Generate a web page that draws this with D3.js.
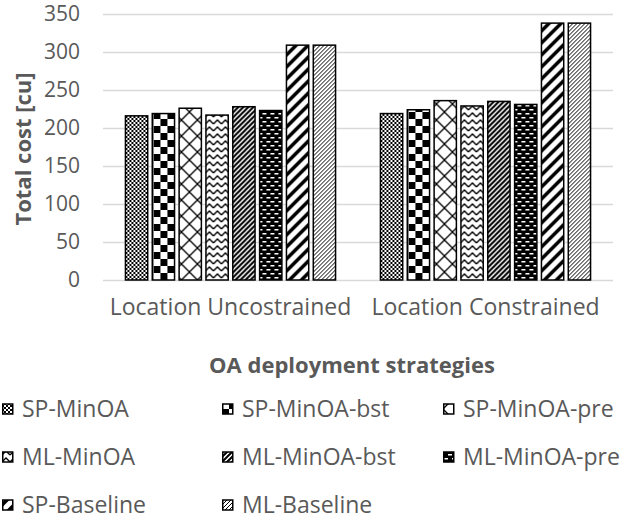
<!DOCTYPE html>
<html>
<head>
<meta charset="utf-8">
<script src="https://cdn.jsdelivr.net/npm/d3@7"></script>
<style>
  html, body { margin: 0; padding: 0; background: #fff; }
  svg { display: block; }
  text { font-family: "Open Sans", sans-serif; fill: #595959; }
</style>
</head>
<body>
<svg id="chart" width="629" height="520"></svg>
<script>
const categories = ["Location Uncostrained", "Location Constrained"];
const seriesNames = ["SP-MinOA", "SP-MinOA-bst", "SP-MinOA-pre", "ML-MinOA", "ML-MinOA-bst", "ML-MinOA-pre", "SP-Baseline", "ML-Baseline"];
const valuesUncostrained = [216, 219, 226, 217, 228, 223, 309, 309];
const valuesConstrained  = [219, 224, 236, 229, 235, 231, 338, 338];
const yTicks = [0, 50, 100, 150, 200, 250, 300, 350];
const yTitle = "Total cost [cu]";
const xTitle = "OA deployment strategies";

const data = [valuesUncostrained, valuesConstrained];

const svg = d3.select("#chart");
const plot = { left: 103, right: 613, top: 14, bottom: 280 };

// Patterns
const defs = svg.append("defs");
function pat(id, w, h, bg, draw) {
  const p = defs.append("pattern").attr("id", id).attr("patternUnits", "userSpaceOnUse")
    .attr("width", w).attr("height", h);
  p.append("rect").attr("width", w).attr("height", h).attr("fill", bg);
  draw(p);
}
pat("p0", 4, 4, "#fff", p => {
  p.append("rect").attr("x", 0).attr("y", 0).attr("width", 2).attr("height", 2).attr("fill", "#000");
  p.append("rect").attr("x", 2).attr("y", 2).attr("width", 2).attr("height", 2).attr("fill", "#000");
});
pat("p1", 14, 14, "#fff", p => {
  p.append("rect").attr("x", 0).attr("y", 0).attr("width", 7).attr("height", 7).attr("fill", "#000");
  p.append("rect").attr("x", 7).attr("y", 7).attr("width", 7).attr("height", 7).attr("fill", "#000");
});
pat("p2", 16, 16, "#fff", p => {
  p.append("path").attr("d", "M0,0L16,16M16,0L0,16").attr("stroke", "#000").attr("stroke-width", 1.3);
});
pat("p3", 8, 7, "#fff", p => {
  p.append("path").attr("d", "M0,5L4,1L8,5").attr("stroke", "#000").attr("stroke-width", 1.3).attr("fill", "none");
});
pat("p4", 5, 5, "#fff", p => {
  p.append("path").attr("d", "M-1,6L6,-1M-1,1L1,-1M4,6L6,4").attr("stroke", "#000").attr("stroke-width", 2);
});
pat("p5", 8, 8, "#000", p => {
  p.append("rect").attr("x", 1).attr("y", 1).attr("width", 4).attr("height", 1.5).attr("fill", "#fff");
  p.append("rect").attr("x", 5).attr("y", 5).attr("width", 4).attr("height", 1.5).attr("fill", "#fff");
  p.append("rect").attr("x", -3).attr("y", 5).attr("width", 4).attr("height", 1.5).attr("fill", "#fff");
});
pat("p6", 12, 12, "#fff", p => {
  p.append("path").attr("d", "M-2,14L14,-2M-2,2L2,-2M10,14L14,10").attr("stroke", "#000").attr("stroke-width", 3.5);
});
pat("p7", 4, 4, "#fff", p => {
  p.append("path").attr("d", "M-1,5L5,-1M-1,1L1,-1M3,5L5,3").attr("stroke", "#000").attr("stroke-width", 1);
});
const fillOf = i => `url(#p${i})`;

const y = d3.scaleLinear().domain([0, 350]).range([plot.bottom, plot.top]);
const x0 = d3.scaleBand().domain(categories).range([plot.left, plot.right]).paddingInner(0.176).paddingOuter(0.088);
const x1 = d3.scaleBand().domain(seriesNames).range([0, x0.bandwidth()]).paddingInner(0.17);

// Gridlines + tick labels
const yAxis = d3.axisLeft(y).tickValues(yTicks).tickSize(-(plot.right - plot.left)).tickPadding(23);
const gy = svg.append("g").attr("transform", `translate(${plot.left},0)`).call(yAxis);
gy.select(".domain").remove();
gy.selectAll(".tick line").attr("stroke", "#d9d9d9").attr("stroke-width", 1.5);
gy.selectAll(".tick text").attr("font-size", 21).attr("fill", "#595959")
  .style("font-family", "'Open Sans', sans-serif");

// Bars
const groups = svg.append("g").selectAll("g").data(categories).join("g")
  .attr("transform", d => `translate(${x0(d)},0)`);
groups.selectAll("rect").data((d, ci) => data[ci].map((v, si) => ({ v, si })))
  .join("rect")
  .attr("x", d => x1(seriesNames[d.si]))
  .attr("y", d => y(d.v))
  .attr("width", x1.bandwidth())
  .attr("height", d => y(0) - y(d.v))
  .attr("fill", d => fillOf(d.si))
  .attr("stroke", "#000")
  .attr("stroke-width", 1.5);

// Category labels
const xAxis = d3.axisBottom(x0).tickSize(0).tickPadding(19);
const gx = svg.append("g").attr("transform", `translate(0,${plot.bottom})`).call(xAxis);
gx.select(".domain").remove();
gx.selectAll(".tick text").attr("font-size", 23).attr("fill", "#595959")
  .style("font-family", "'Open Sans', sans-serif");

// Axis titles
svg.append("text").attr("x", 352).attr("y", 373).attr("text-anchor", "middle")
  .attr("font-size", 22).attr("font-weight", "bold").text(xTitle);
svg.append("text").attr("transform", "translate(31,149) rotate(-90)").attr("text-anchor", "middle")
  .attr("font-size", 22).attr("font-weight", "bold").text(yTitle);

// Legend
const legCols = [2, 222, 443];
const legRows = [409, 457, 505];
const leg = svg.append("g").selectAll("g").data(seriesNames).join("g")
  .attr("transform", (d, i) => `translate(${legCols[i % 3]},${legRows[Math.floor(i / 3)]})`);
leg.append("rect").attr("x", 0.75).attr("y", -5).attr("width", 10).attr("height", 10)
  .attr("fill", (d, i) => fillOf(i)).attr("stroke", "#000").attr("stroke-width", 1.5);
leg.append("text").attr("x", 20).attr("y", 8).attr("font-size", 23).text(d => d);
</script>
</body>
</html>
